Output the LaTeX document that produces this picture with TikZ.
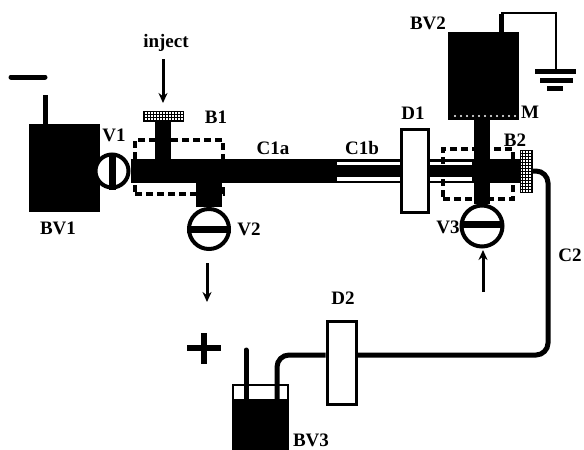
\documentclass[tikz,border=0pt]{standalone}
\usepackage{fontspec}
\setmainfont{Liberation Serif}
\usetikzlibrary{arrows.meta, patterns}

\begin{document}
\begin{tikzpicture}[
  x=1pt, y=-1pt,
  label/.style={inner sep=0pt, font=\fontsize{19}{19}\selectfont\bfseries},
  vessel/.style={fill=black, draw=black, inner sep=0pt},
  window/.style={draw=black, line width=3pt, fill=white, inner sep=0pt},
  valve/.style={circle, draw=black, line width=4pt, fill=white, inner sep=0pt},
  valvebar/.style={line width=7pt},
  mesh/.style={draw=black, line width=1pt, pattern=grid, inner sep=0pt},
  buffer/.style={draw=black, line width=3.2pt, dash pattern=on 7pt off 4pt, inner sep=0pt},
  tube/.style={line width=24pt},
  stem/.style={line width=16pt},
  wire/.style={line width=5pt},
  thinwire/.style={line width=2.8pt},
  flow/.style={-{Stealth[length=10pt, width=9pt]}, line width=3pt},
]
\useasboundingbox (0,0) rectangle (584,450);
% vessels
\node[vessel, minimum width=70pt, minimum height=87pt] (bv1) at (64,168) {};
\node[vessel, minimum width=70pt, minimum height=87pt] (bv2) at (483,75.5) {};
\node[draw=black, line width=2.5pt, inner sep=0pt, minimum width=55pt, minimum height=65pt] (bv3) at (260.5,417.5) {};
\fill[black] (233,399) rectangle (288,450);
% outlets
\node[inner sep=0pt] (bv1top) at (45,125) {};
\coordinate (bv1wire) at (45,95);
\coordinate (minusa) at (11,77);
\coordinate (minusb) at (45,77);
\coordinate (plusl) at (187,348);
\coordinate (plusr) at (221,348);
\coordinate (plust) at (204,333);
\coordinate (plusb) at (204,364);
% main tube
\node[inner sep=0pt] (c1bstart) at (337,171) {};
\node[inner sep=0pt] (c1bend) at (472,171) {};
\node[mesh, minimum width=12pt, minimum height=42pt] (b2mesh) at (526,171) {};
\node[mesh, minimum width=40pt, minimum height=10pt] (injmesh) at (163,116) {};
\node[valve, minimum size=33pt] (v1) at (112,171) {};
\draw[tube] (v1.east) -- (c1bstart.center);
\draw[tube] (c1bstart.center) -- (b2mesh.west);
\draw[white, line width=19pt] (c1bstart.center) -- (c1bend.center);
\draw[line width=12pt] (c1bstart.center) -- (c1bend.center);
\node[window, minimum width=27pt, minimum height=83pt] (d1) at (414.5,170.5) {};
\node[window, minimum width=29pt, minimum height=83pt] (d2) at (341.5,362.5) {};
% side arms
\node[valve, minimum size=40pt] (v2) at (209,229) {};
\node[valve, minimum size=41pt] (v3) at (482,226) {};
\coordinate (v2top) at (209,171);
\draw[line width=26pt] (v2top) -- (v2.north);
\draw[stem] (injmesh.south) -- (injmesh.south |- c1bstart);
\draw[stem] (bv2.south -| v3.north) -- (v3.north);
\draw[valvebar] (v1.north) -- (v1.south);
\draw[valvebar] (v2.west) -- (v2.east);
\draw[valvebar] (v3.west) ++(0,-2) -- ++(41,0);
% buffer boxes
\node[buffer, minimum width=88pt, minimum height=54pt] (b1box) at (179,167) {};
\node[buffer, minimum width=70pt, minimum height=50pt] (b2box) at (478,174) {};
% outlet capillary
\coordinate (c2top) at (548,171);
\coordinate (c2low) at (548,355);
\coordinate (c2bend) at (277,355);
\coordinate (c2end) at (277,400);
\draw[wire, rounded corners=12pt] (b2mesh.east) -- (c2top) -- (c2low) -- (d2.east |- c2low);
\draw[wire, rounded corners=12pt] (d2.west |- c2low) -- (c2bend) -- (c2end);
\coordinate (bv3wire) at (246,350);
\coordinate (bv3wireb) at (246,400);
\draw[wire, line cap=round] (bv3wire) -- (bv3wireb);
% electrodes and ground
\draw[wire] (bv1top.center) -- (bv1wire);
\draw[line width=5pt, line cap=round] (minusa) -- (minusb);
\draw[line width=6pt] (plusl) -- (plusr);
\draw[line width=6pt] (plust) -- (plusb);
\coordinate (gnda) at (501,32);
\coordinate (gndb) at (501,13);
\coordinate (gndc) at (556,13);
\coordinate (gndd) at (556,70);
\draw[wire] (gnda) -- (501,14);
\draw[thinwire] (gndb) -- (gndc) -- (gndd);
\draw[line width=5pt] (535,71) -- (576,71);
\draw[line width=5pt] (540,80) -- (573,80);
\draw[line width=5pt] (547,88) -- (563,88);
% membrane
\foreach \mx in {455,461,...,515} {
  \fill[white] (\mx,116) circle (1.2pt);
}
% labels
\node[label] (inject) at (166,43) {inject};
\node[label] (b1) at (216,117) {B1};
\node[label] (lv1) at (114,135) {V1};
\node[label] (lc1a) at (273,148) {C1a};
\node[label] (lbv1) at (58,228) {BV1};
\node[label] (lv2) at (249,229) {V2};
\node[label] (lc1b) at (362,148) {C1b};
\node[label] (ld1) at (413,113) {D1};
\node[label] (lbv2) at (428,23) {BV2};
\node[label] (lm) at (530,112) {M};
\node[label] (lb2) at (515,140) {B2};
\node[label] (lv3) at (448,227) {V3};
\node[label] (lc2) at (570,255) {C2};
\node[label] (ld2) at (343,298) {D2};
\node[label] (lbv3) at (311,440) {BV3};
% arrows
\coordinate (injfrom) at (163,59);
\coordinate (injto) at (163,103);
\coordinate (v2from) at (207,263);
\coordinate (v2to) at (207,302);
\coordinate (v3from) at (483,292);
\coordinate (v3to) at (483,250);
\draw[flow] (injfrom) -- (injto);
\draw[flow] (v2from) -- (v2to);
\draw[flow] (v3from) -- (v3to);
\end{tikzpicture}
\end{document}
